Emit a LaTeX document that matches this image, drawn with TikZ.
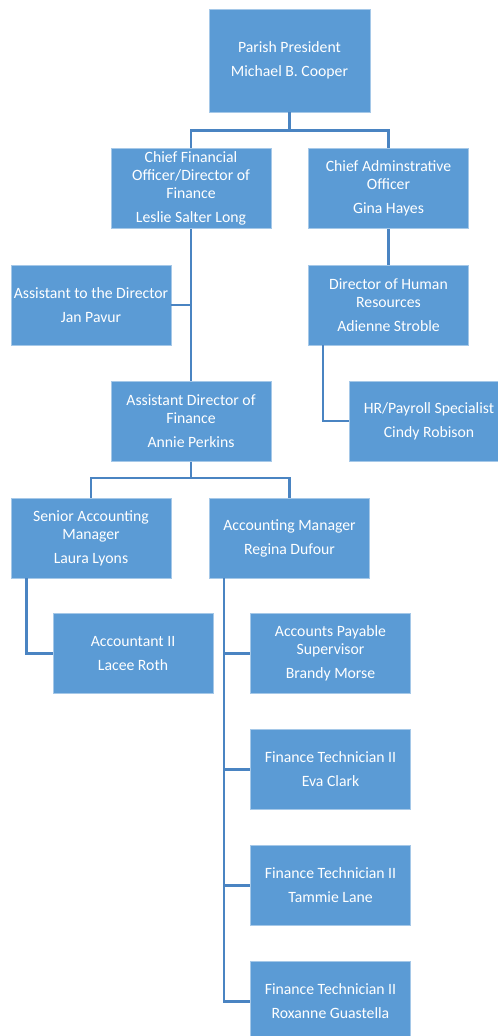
\documentclass[tikz,border=0pt]{standalone}
\usepackage{fontspec}
\setmainfont{Carlito}
\usetikzlibrary{calc}
\definecolor{boxblue}{HTML}{5B9BD5}
\definecolor{linkblue}{HTML}{4A84C2}

\begin{document}
\begin{tikzpicture}[x=0.75pt, y=-0.75pt,
  post/.style={fill=boxblue, draw=boxblue!55!white, line width=0.6pt, text=white,
    align=center, minimum width=120pt, minimum height=60pt, inner sep=0pt,
    font=\fontsize{11.8}{13.5}\selectfont},
  link/.style={draw=linkblue, line width=2pt}]
  % Page
  \clip (0,0) rectangle (498,1036);

  % Top level
  \node[post, minimum width=120.75pt, minimum height=77.25pt] (pres) at (289.5,60.5)
    {Parish President\\[4.5pt]Michael B. Cooper};

  % Second level
  \node[post] (cfo) at (191,188.5)
    {Chief Financial\\Officer/Director of\\Finance\\[4.5pt]Leslie Salter Long};
  \node[post] (cao) at (388.5,188.5)
    {Chief Adminstrative\\Officer\\[4.5pt]Gina Hayes};

  % Finance side
  \node[post] (asst) at (91,305)
    {Assistant to the Director\\[4.5pt]Jan Pavur};
  \node[post] (adf) at (191,421.5)
    {Assistant Director of\\Finance\\[4.5pt]Annie Perkins};
  \node[post] (sam) at (91,538)
    {Senior Accounting\\Manager\\[4.5pt]Laura Lyons};
  \node[post] (am) at (289.5,538)
    {Accounting Manager\\[4.5pt]Regina Dufour};
  \node[post] (acc) at (133,653.5)
    {Accountant II\\[4.5pt]Lacee Roth};
  \node[post] (aps) at (330.5,653.5)
    {Accounts Payable\\Supervisor\\[4.5pt]Brandy Morse};
  \node[post] (ft1) at (330.5,769.5)
    {Finance Technician II\\[4.5pt]Eva Clark};
  \node[post] (ft2) at (330.5,885.5)
    {Finance Technician II\\[4.5pt]Tammie Lane};
  \node[post] (ft3) at (330.5,1001.5)
    {Finance Technician II\\[4.5pt]Roxanne Guastella};

  % Admin side
  \node[post] (hr) at (388.5,305)
    {Director of Human\\Resources\\[4.5pt]Adienne Stroble};
  \node[post] (pay) at (429,421)
    {HR/Payroll Specialist\\[4.5pt]Cindy Robison};

  % Connectors
  \draw[link] (pres.south) -- ++(0,18) -| (cfo.north);
  \draw[link] (pres.south) -- ++(0,18) -| (cao.north);
  \draw[link] (cfo.south) -- (adf.north);
  \draw[link] (asst.east) -- (asst.east -| cfo.south);
  \draw[link] (cao.south) -- (hr.north);
  \draw[link] ($(hr.south west)+(15,0)$) |- (pay.west);
  \draw[link] (adf.south) -- ++(0,16) -| (sam.north);
  \draw[link] (adf.south) -- ++(0,16) -| (am.north);
  \draw[link] ($(sam.south west)+(16,0)$) |- (acc.west);
  \foreach \n in {aps,ft1,ft2,ft3}
    \draw[link] ($(am.south west)+(15,0)$) |- (\n.west);
\end{tikzpicture}
\end{document}
